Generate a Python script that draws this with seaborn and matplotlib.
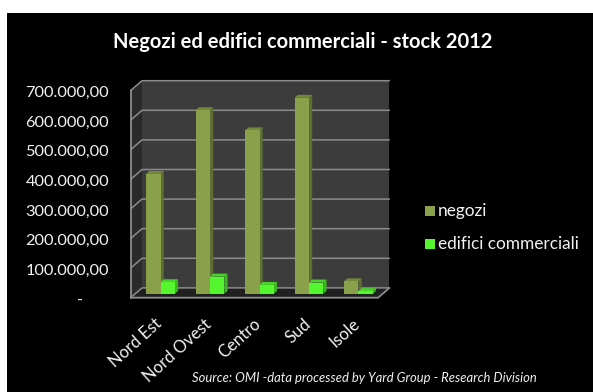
import numpy as np
import pandas as pd
import seaborn as sns
import matplotlib
matplotlib.use("Agg")
import matplotlib.pyplot as plt
from matplotlib.patches import Polygon, Rectangle
from matplotlib.transforms import ScaledTranslation

zones = ["Nord Est", "Nord Ovest", "Centro", "Sud", "Isole"]
negozi = [405000, 620000, 552000, 662000, 42000]
edifici = [39000, 58000, 30000, 38000, 9000]
y_ticks = [0, 100000, 200000, 300000, 400000, 500000, 600000, 700000]
y_labels = ["-      ", "100.000,00", "200.000,00", "300.000,00", "400.000,00",
            "500.000,00", "600.000,00", "700.000,00"]
series_names = ["negozi", "edifici commerciali"]
palette = {"negozi": "#8AA04A", "edifici commerciali": "#55F52F"}
side_shade = {"negozi": "#5F6E35", "edifici commerciali": "#3CB822"}
top_shade = {"negozi": "#74893B", "edifici commerciali": "#47D428"}

W, H = 593, 392
DPI = 100
sns.set_theme(style="dark")
plt.rcParams["font.family"] = ["Lato", "DejaVu Sans"]

fig = plt.figure(figsize=(W / DPI, H / DPI), dpi=DPI, facecolor="white")
fig.add_artist(Rectangle((7 / W, 0), 1 - 7 / W, 1 - 13 / H, transform=fig.transFigure,
                         facecolor="black", edgecolor="none", zorder=-5))

# The axes hold the plane the bars stand on; walls and floor extend from it
left_px, right_px, base_px, top_px = 135.8, 383.2, 293.8, 86.6
front_px = 297.7
ax = fig.add_axes([left_px / W, 1 - front_px / H,
                   (right_px - left_px) / W, (front_px - top_px) / H])
ax.patch.set_alpha(0)
unit_y = (base_px - top_px) / 700000
unit_x = (right_px - left_px) / 5

df = pd.DataFrame({
    "zona": zones * 2,
    "serie": ["negozi"] * 5 + ["edifici commerciali"] * 5,
    "valore": negozi + edifici,
})
sns.barplot(data=df, x="zona", y="valore", hue="serie", hue_order=series_names,
            palette=palette, saturation=1, width=0.58, gap=0, ax=ax, legend=False,
            linewidth=0, edgecolor="none", zorder=4)
ax.set_xlim(-0.5, 4.5)
ax.set_ylim(-(front_px - base_px) / unit_y, 700000)


def px_x(px):
    return px / unit_x


def px_y(px):
    return px / unit_y


# Room geometry, relative to the bar plane
f_dx, f_dy = px_x(-5.1), px_y(-3.9)
b_dx, b_dy = px_x(6.2), px_y(5.9)
x0, x1 = -0.5, 4.5
grid = "#8C8C8C"

ax.add_patch(Polygon([(x0 + b_dx, b_dy), (x1 + b_dx, b_dy),
                      (x1 + b_dx, 700000 + b_dy), (x0 + b_dx, 700000 + b_dy)],
                     closed=True, fc="#3C3C3C", ec="none", zorder=1, clip_on=False))
ax.add_patch(Polygon([(x0 + f_dx, f_dy), (x0 + b_dx, b_dy),
                      (x0 + b_dx, 700000 + b_dy), (x0 + f_dx, 700000 + f_dy)],
                     closed=True, fc="#2A2A2A", ec="none", zorder=1, clip_on=False))
ax.add_patch(Polygon([(x0 + f_dx, f_dy), (x1 + f_dx, f_dy),
                      (x1 + b_dx, b_dy), (x0 + b_dx, b_dy)],
                     closed=True, fc="#202020", ec="none", zorder=1, clip_on=False))
for v in y_ticks:
    ax.plot([x0 + f_dx, x0 + b_dx, x1 + b_dx],
            [v + f_dy, v + b_dy, v + b_dy], color=grid, lw=1.1, zorder=2, clip_on=False)
ax.plot([x0 + f_dx, x0 + f_dx], [f_dy, 700000 + f_dy], color=grid, lw=1.3, zorder=3, clip_on=False)
ax.plot([x0 + f_dx, x1 + f_dx, x1 + b_dx], [f_dy, f_dy, b_dy], color=grid, lw=1.3, zorder=3, clip_on=False)

# Give each bar a side and a top face behind its front
d_x, d_y = px_x(3.2), px_y(3.0)
names = ["negozi"] * 5 + ["edifici commerciali"] * 5
for bar, name in zip(list(ax.containers[0]) + list(ax.containers[1]), names):
    bx, by = bar.get_x(), bar.get_height()
    bw = bar.get_width()
    ax.add_patch(Polygon([(bx + bw, 0), (bx + bw + d_x, d_y),
                          (bx + bw + d_x, by + d_y), (bx + bw, by)],
                         closed=True, fc=side_shade[name], ec="none", zorder=3.5, clip_on=False))
    ax.add_patch(Polygon([(bx, by), (bx + bw, by), (bx + bw + d_x, by + d_y), (bx + d_x, by + d_y)],
                         closed=True, fc=top_shade[name], ec="none", zorder=3.5, clip_on=False))

# Tick labels belong to the front edge of the left wall
ax.set_yticks(y_ticks, y_labels)
ax.set_xlabel("")
ax.set_ylabel("")
ax.tick_params(axis="y", length=0, pad=19.3, labelsize=11.8, labelcolor="#F2F2F2")
ax.tick_params(axis="x", length=0, pad=13, labelsize=12, labelcolor="#F2F2F2")
shift = ScaledTranslation(0, -5 / DPI, fig.dpi_scale_trans)
for lab in ax.get_yticklabels():
    lab.set_transform(lab.get_transform() + shift)
ax.set_xticks(range(5), zones)
x_shift = ScaledTranslation(-6 / DPI, 0, fig.dpi_scale_trans)
for lab in ax.get_xticklabels():
    lab.set_rotation(42)
    lab.set_ha("right")
    lab.set_va("top")
    lab.set_rotation_mode("anchor")
    lab.set_transform(lab.get_transform() + x_shift)
for s in ax.spines.values():
    s.set_visible(False)
ax.grid(False)

fig.text(303 / W, 1 - 42 / H, "Negozi ed edifici commerciali - stock 2012",
         color="white", fontsize=14.5, fontweight="bold", ha="center", va="center")
fig.text(364 / W, 1 - 378 / H, "Source: OMI -data processed by Yard Group - Research Division",
         color="#F2F2F2", fontsize=9.4, style="italic", ha="center", va="center")

# Legend
for name, y_px in zip(series_names, [211, 244]):
    fig.add_artist(Rectangle((424.5 / W, 1 - (y_px + 5) / H), 10 / W, 10 / H,
                             transform=fig.transFigure, facecolor=palette[name], edgecolor="none"))
    fig.text(437.5 / W, 1 - y_px / H, name, color="#F2F2F2", fontsize=12.4, ha="left", va="center")

fig.savefig("out.png", dpi=DPI, facecolor=fig.get_facecolor())
